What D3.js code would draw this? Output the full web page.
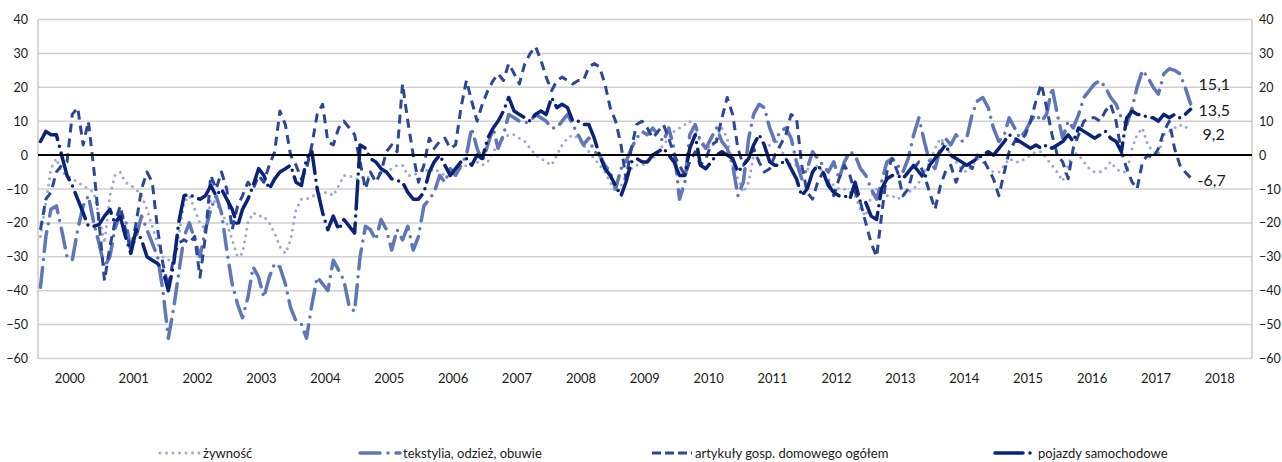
<!DOCTYPE html>
<html>
<head>
<meta charset="utf-8">
<script src="https://cdn.jsdelivr.net/npm/d3@7"></script>
<style>
  body { margin: 0; background: #fff; }
  text { font-family: Lato, "Liberation Sans Narrow", Roboto, sans-serif; fill: #1a1a1a; }
</style>
</head>
<body>
<svg id="viz" width="1282" height="462"></svg>
<script>
const margin = {top: 19.5, right: 30, bottom: 103.5, left: 38};
const width = 1282;
const height = 462;

// monthly values, Jan 2000 .. Jan 2018 (one row per year)
const zywnosc = [
  -24, -14, -4, -1, -5, -6, -7, -8, -9, -10, -11, -18,
  -26, -12, -6, -5, -8, -9, -10, -12, -16, -21, -26, -30,
  -31, -30, -24, -14, -12, -16, -20, -22, -13, -14, -17, -20,
  -25, -30, -29, -20, -17, -18, -18, -20, -23, -27, -29, -25,
  -16, -13, -13, -12, -12, -11, -11, -12, -9, -6, -6, -7,
  -7, -6, -7, -6, -5, -5, -4, -3, -3, -6, -6, -5,
  -4, -5, -4, -5, -6, -6, -5, -4, -3, -3, -2, -3,
  -2, 1, 3, 5, 6, 6, 5, 4, 2, 0, -1, -2,
  -3, 0, 3, 5, 6, 5, 3, 1, -1, -3, -5, -8,
  -11, -9, -6, -4, -3, -3, -2, -1, 1, 3, 5, 7,
  8, 9, 10, 7, 4, 3, 2, 5, 8, 5, -3, -7,
  -11, -8, 0, -1, 1, 3, 5, 2, -1, -3, -3, -4,
  -4, -5, -3, -5, -7, -9, -10, -10, -11, -12, -16, -18,
  -12, -10, -11, -12, -12, -13, -12, -11, -10, -8, -5, -2,
  2, 5, 3, 0, -2, -4, -5, -3, -1, -2, -4, -5,
  -5, -3, -1, -2, -2, -1, 0, 1, 1, -1, -3, -5,
  -7.6, -3, 1, 0, -2, -4, -5, -5, -4, -2, -4, -5,
  -5, 2, 6, 8, 3, 1, 0, 6, 7, 8, 9, 8,
  9.2
];
const tekstylia = [
  -39, -24, -16, -15, -22, -30, -31, -22, -15, -12, -20, -26,
  -33, -30, -22, -17, -19, -28, -24, -18, -22, -26, -30, -40,
  -54, -45, -35, -24, -20, -25, -30, -22, -16, -12, -17, -28,
  -38, -44, -48, -42, -33, -36, -42, -36, -32, -33, -38, -45,
  -49, -50, -54, -44, -36, -38, -40, -31, -34, -37, -45, -46,
  -30, -21, -22, -25, -19, -22, -28, -22, -25, -21, -28, -24,
  -15, -13, -11, -6, -8, -4, -6, -3, 0, 8, 2, -2,
  3, 8, 2, 6, 12, 11, 10, 9.5, 10, 12, 11, 10,
  8, 8, 10, 12, 9, 6, 3, 5, 1, 0, -3, -5,
  -10, -4, -2, 2, 5, 7, 6, 8, 6, 4, 8, 2,
  -13, -8, 6, 9, 4, 2, 5, 8, 4, 2, -3, -12,
  -8, 5, 12, 15, 14, 8, 4, 7, 8, 5, -2, -7,
  -4, 1, -1, -3, -5, -2, -7, -2, 1, 0, -4, -6,
  -10, -13, -8, -2, -1, -3, -5, -1, 6, 11, 4, -2,
  -4, 2, 5, 3, 6, 4, 5, 12, 16, 17, 14, 8,
  4, 6, 11, 8, 5, 7, 10, 12, 10, 12, 20, 12,
  5, 10, 8, 12, 17, 19, 21, 22, 20, 17, 15, 11,
  9, 14, 20, 25, 23, 20, 18, 24, 25.5, 25, 24, 20,
  15.1
];
const artykuly = [
  -22, -13, -11, -5, -3, -2, 12, 14, 3, 10, -4, -20,
  -37, -27, -20, -15, -22, -28, -20, -10, -5, -8, -22, -32,
  -39, -30, -26, -25, -26, -24, -36, -24, -6, -10, -5, -10,
  -22, -15, -12, -8, -10, -6, -8, -3, 1, 13, 9, 0,
  -3, -7, -4, 3, 12, 15, 4, 3, 8, 10, 8, 6,
  -2, -10, -5, -8, -5, 1, 3, 1, 21, 10, 0, -8,
  -3, 5, 2, 4, 5, 2, 3, 14, 22, 16, 10, 15,
  19, 22, 24, 22, 27, 24, 21, 27, 30, 32, 28, 23,
  19, 22, 23, 22, 21, 22, 22, 26, 27, 26, 21, 14,
  10, 3, -7, 2, 9, 10, 8, 5, 7, 9, 5, 0,
  -3, -6, -2, 1, -3, -1, 3, 4, 11, 17, 12, 2,
  -3, -1, 2, -2, -5, -4, 0, 3, 6, 12, 11, -3,
  -11, -13, -8, -5, -8, -12, -7, -3, -6, -11, -14, -20,
  -26, -30, -18, -5, -1, -5, -12, -10, -4, -2, -6, -11,
  -16, -9, -5, -3, -8, -4, -2, -4, 0, -1, -4, -7,
  -12, -5, 1, 4, 4, 6, 10, 16, 21, 14, 6, 0,
  -2, -7, 2, 6, 10, 11, 11, 10, 13, 15, 10, 1,
  -4, -8, -10, -2, 0, -1, 2, 7, 10, 2, -3, -5,
  -6.7
];
const pojazdy = [
  4, 7, 6, 6, 0, -6, -9, -13, -17, -21, -21, -20.5,
  -18, -16, -20, -18, -24, -29, -22, -25, -30, -31, -32, -34,
  -40, -32, -20, -12, -11.5, -12.5, -13, -12, -9, -12, -10, -13,
  -16, -21, -16, -13, -9, -4, -6, -10, -7, -5, -4, -3,
  -8, -9, -1, 1, -10, -17, -22, -18, -22, -19, -21, -23,
  3, 2, -1, -2, -4, -5, -7, -7.5, -8, -11, -13, -13,
  -11, -5, -2, 0, -3, -6, -4, -2, -1, -3, 0, -1,
  5, 8, 10, 13, 17, 13, 12, 11, 10, 12, 13, 12,
  17, 14, 15, 14, 10, 10, 9, 9, 5, 0, -4, -6,
  -9, -12, -8, -2, -1, -2, -2, 0, 1, 2, 0, -2,
  -6, -6, 2, 6, -3, -4, -2, 0, 1, 0, -1, -5,
  -3, -1, 3, 6, 3, -2, -3, -3, -1, -4, -7, -12,
  -10, -5, -3, -5, -9, -11, -12, -12, -13, -8, -14, -14,
  -18, -19, -10, -7, -6, -6, -7, -5, -3, -5, -7, -3,
  -1, 1, 3, 0, -1, -2, -3, -2, -1, 0, 1, 0,
  2, 4, 6, 5, 4, 3, 2, 3, 2, 3, 2, 3,
  4, 6, 4, 8, 7, 6, 5, 6, 7, 5, 4, 1,
  11, 13, 12, 12, 11, 11, 10, 12, 11, 12, 11, 12,
  13.5
];

const years = d3.range(2000, 2019);
const yTicks = [40, 30, 20, 10, 0, -10, -20, -30, -40, -50, -60];

const series = [
  {name: 'żywność', values: zywnosc, color: '#9ba8d6', width: 3, dash: '0 6.5', cap: 'round', label: '9,2', labelDy: 10, labelDx: 4},
  {name: 'tekstylia, odzież, obuwie', values: tekstylia, color: '#5f76b7', width: 3.5, dash: '20 8 0 8', cap: 'round', label: '15,1', labelDy: -20, labelDx: 0},
  {name: 'artykuły gosp. domowego ogółem', values: artykuly, color: '#2d4797', width: 3, dash: '9 6', cap: 'butt', label: '-6,7', labelDy: 3, labelDx: -1},
  {name: 'pojazdy samochodowe', values: pojazdy, color: '#0b2377', width: 3.5, dash: '28 7 0 7', cap: 'round', label: '13,5', labelDy: 1.5, labelDx: 0}
];

const monthDate = i => new Date(2000, i, 15);

const xScale = d3.scaleTime()
  .domain([new Date(2000, 0, 1), new Date(2019, 0, 1)])
  .range([margin.left, width - margin.right]);

const yScale = d3.scaleLinear()
  .domain([-60, 40])
  .range([height - margin.bottom, margin.top]);

const svg = d3.select('#viz');

// gridlines
svg.append('g')
  .selectAll('line')
  .data(yTicks.filter(d => d !== 0))
  .join('line')
    .attr('x1', margin.left)
    .attr('x2', width - margin.right)
    .attr('y1', d => yScale(d))
    .attr('y2', d => yScale(d))
    .attr('stroke', '#d0d0d0')
    .attr('stroke-width', 1.5);

// side borders
svg.append('g')
  .selectAll('line')
  .data([margin.left, width - margin.right])
  .join('line')
    .attr('x1', d => d)
    .attr('x2', d => d)
    .attr('y1', margin.top)
    .attr('y2', yScale(-60))
    .attr('stroke', '#bdbdbd')
    .attr('stroke-width', 1.2);

// left & right y axes (labels only)
const yLeft = svg.append('g')
  .attr('transform', `translate(${margin.left - 9},0)`)
  .call(d3.axisLeft(yScale).tickValues(yTicks).tickSize(0).tickPadding(1));
const yRight = svg.append('g')
  .attr('transform', `translate(${width - margin.right + 6},0)`)
  .call(d3.axisRight(yScale).tickValues(yTicks).tickSize(0).tickPadding(1));
[yLeft, yRight].forEach(ax => {
  ax.select('.domain').remove();
  ax.selectAll('text')
    .style('font-family', 'Lato, sans-serif')
    .style('font-size', '12.5px')
    .attr('fill', '#1a1a1a');
});

// x axis year labels, centred in each year
svg.append('g')
  .selectAll('text')
  .data(years)
  .join('text')
    .attr('x', d => xScale(new Date(d, 6, 1)))
    .attr('y', 378)
    .attr('dy', '0.35em')
    .attr('text-anchor', 'middle')
    .style('font-size', '13px')
    .text(d => d);

// series lines
const line = d3.line()
  .x((d, i) => xScale(monthDate(i)))
  .y(d => yScale(d));

svg.append('g')
  .selectAll('path')
  .data(series)
  .join('path')
    .attr('d', d => line(d.values))
    .attr('fill', 'none')
    .attr('stroke', d => d.color)
    .attr('stroke-width', d => d.width)
    .attr('stroke-dasharray', d => d.dash)
    .attr('stroke-linecap', d => d.cap)
    .attr('stroke-linejoin', 'round');

// zero line on top
svg.append('line')
  .attr('x1', margin.left)
  .attr('x2', width - margin.right)
  .attr('y1', yScale(0))
  .attr('y2', yScale(0))
  .attr('stroke', '#000')
  .attr('stroke-width', 2);

// last value labels
svg.append('g')
  .selectAll('text')
  .data(series)
  .join('text')
    .attr('x', d => xScale(monthDate(d.values.length - 1)) + 8 + d.labelDx)
    .attr('y', d => yScale(d.values[d.values.length - 1]) + d.labelDy)
    .attr('dy', '0.35em')
    .style('font-size', '16px')
    .text(d => d.label);

// legend
const legendX = [160, 360, 652, 995];
const legend = svg.append('g')
  .selectAll('g')
  .data(series)
  .join('g')
    .attr('transform', (d, i) => `translate(${legendX[i]},453)`);
legend.append('line')
  .attr('x1', 0)
  .attr('x2', 40)
  .attr('stroke', d => d.color)
  .attr('stroke-width', d => d.width)
  .attr('stroke-dasharray', (d, i) => i === 2 ? '9 4' : d.dash)
  .attr('stroke-linecap', d => d.cap);
legend.append('text')
  .attr('x', 43)
  .attr('dy', '0.35em')
  .style('font-size', '13px')
  .text(d => d.name);
</script>
</body>
</html>
